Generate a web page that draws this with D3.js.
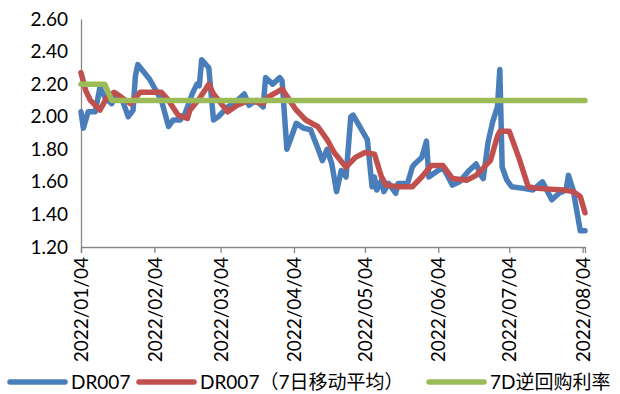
<!DOCTYPE html>
<html>
<head>
<meta charset="utf-8">
<script src="https://cdn.jsdelivr.net/npm/d3@7"></script>
<style>
  html, body { margin: 0; padding: 0; background: #fff; }
  svg text { font-family: Lato, "Noto Sans CJK SC", sans-serif; fill: #000; }
</style>
</head>
<body>
<svg id="chart" width="620" height="394"></svg>
<script>
// DR007 daily fixing (%)
const drDates = ["2022-01-04","2022-01-05","2022-01-07","2022-01-10","2022-01-12","2022-01-14","2022-01-17","2022-01-19","2022-01-21","2022-01-24","2022-01-26","2022-01-27","2022-01-28","2022-02-02","2022-02-07","2022-02-10","2022-02-12","2022-02-15","2022-02-17","2022-02-20","2022-02-22","2022-02-23","2022-02-24","2022-02-27","2022-03-01","2022-03-03","2022-03-07","2022-03-11","2022-03-14","2022-03-16","2022-03-19","2022-03-22","2022-03-23","2022-03-26","2022-03-29","2022-03-30","2022-04-01","2022-04-05","2022-04-08","2022-04-11","2022-04-14","2022-04-16","2022-04-18","2022-04-20","2022-04-22","2022-04-24","2022-04-26","2022-04-28","2022-04-29","2022-05-05","2022-05-07","2022-05-08","2022-05-09","2022-05-11","2022-05-12","2022-05-14","2022-05-17","2022-05-18","2022-05-22","2022-05-24","2022-05-25","2022-05-28","2022-05-30","2022-05-31","2022-06-03","2022-06-06","2022-06-10","2022-06-13","2022-06-17","2022-06-20","2022-06-22","2022-06-23","2022-06-25","2022-06-27","2022-06-29","2022-06-30","2022-07-01","2022-07-03","2022-07-05","2022-07-10","2022-07-14","2022-07-18","2022-07-22","2022-07-25","2022-07-28","2022-07-29","2022-07-31","2022-08-03","2022-08-05"];
const drValues = [2.03,1.93,2.03,2.03,2.18,2.12,2.08,2.14,2.12,2.00,2.04,2.25,2.32,2.23,2.10,1.94,1.98,1.98,2.02,2.14,2.20,2.19,2.35,2.30,1.98,2.00,2.06,2.10,2.14,2.07,2.10,2.06,2.24,2.20,2.24,2.22,1.80,1.96,1.93,1.92,1.81,1.73,1.80,1.71,1.54,1.67,1.63,2.00,2.01,1.86,1.57,1.63,1.55,1.61,1.54,1.59,1.53,1.59,1.59,1.69,1.71,1.75,1.85,1.63,1.66,1.69,1.58,1.60,1.67,1.71,1.64,1.62,1.84,1.97,2.06,2.29,1.69,1.61,1.57,1.56,1.55,1.60,1.49,1.53,1.55,1.64,1.55,1.30,1.30];

// DR007, 7-day moving average (%)
const maDates = ["2022-01-04","2022-01-06","2022-01-08","2022-01-12","2022-01-15","2022-01-18","2022-01-21","2022-01-25","2022-01-29","2022-02-07","2022-02-10","2022-02-14","2022-02-18","2022-02-19","2022-02-23","2022-02-27","2022-03-01","2022-03-07","2022-03-11","2022-03-16","2022-03-22","2022-03-24","2022-03-30","2022-04-05","2022-04-09","2022-04-14","2022-04-18","2022-04-21","2022-04-26","2022-04-30","2022-05-04","2022-05-08","2022-05-11","2022-05-13","2022-05-18","2022-05-24","2022-05-28","2022-06-01","2022-06-06","2022-06-10","2022-06-16","2022-06-20","2022-06-26","2022-06-29","2022-06-30","2022-07-04","2022-07-08","2022-07-12","2022-07-16","2022-07-27","2022-07-31","2022-08-03","2022-08-05"];
const maValues = [2.27,2.16,2.10,2.04,2.12,2.15,2.12,2.08,2.15,2.15,2.10,2.01,1.99,2.04,2.11,2.20,2.14,2.03,2.07,2.10,2.08,2.12,2.17,2.04,1.98,1.94,1.86,1.78,1.69,1.75,1.78,1.77,1.63,1.58,1.57,1.57,1.63,1.70,1.70,1.62,1.61,1.64,1.73,1.88,1.91,1.91,1.75,1.57,1.56,1.55,1.54,1.51,1.41];

// 7-day reverse repo policy rate (%)
const rrDates = ["2022-01-04","2022-01-14","2022-01-17","2022-08-05"];
const rrValues = [2.20,2.20,2.10,2.10];

const yTicks = [1.20,1.40,1.60,1.80,2.00,2.20,2.40,2.60];
const xTickLabels = ["2022/01/04","2022/02/04","2022/03/04","2022/04/04","2022/05/04","2022/06/04","2022/07/04","2022/08/04"];
const seriesNames = ["DR007","DR007（7日移动平均）","7D逆回购利率"];
const seriesColors = ["#4a7ebb","#c0504d","#9bbb59"];

const parse = d3.timeParse("%Y-%m-%d");
const parseTick = d3.timeParse("%Y/%m/%d");
const fmtTick = d3.timeFormat("%Y/%m/%d");

const svg = d3.select("#chart");
const x = d3.scaleTime()
  .domain([parse("2022-01-04"), parse("2022-08-05")])
  .range([81, 585]);
const y = d3.scaleLinear().domain([1.2, 2.6]).range([247, 19]);

// axes
const yAxis = d3.axisLeft(y).tickValues(yTicks).tickFormat(d3.format(".2f")).tickSize(0).tickPadding(13);
const gy = svg.append("g").attr("transform", "translate(81,0)").call(yAxis);
gy.select(".domain").attr("stroke", "#868686").attr("stroke-width", 1.3);
gy.selectAll("text").attr("font-size", 19).style("font-family", "Lato, sans-serif");

const xAxis = d3.axisBottom(x)
  .tickValues(xTickLabels.map(parseTick))
  .tickFormat(fmtTick)
  .tickSizeInner(6).tickSizeOuter(6).tickPadding(8);
const gx = svg.append("g").attr("transform", "translate(0,247)").call(xAxis);
gx.select(".domain").attr("stroke", "#868686").attr("stroke-width", 1.3);
gx.selectAll(".tick line").attr("stroke", "#868686").attr("stroke-width", 1.3);
gx.selectAll("text")
  .attr("font-size", 19)
  .style("font-family", "Lato, sans-serif")
  .attr("text-anchor", "end")
  .attr("dy", "0.35em")
  .attr("y", 0)
  .attr("x", -10)
  .attr("transform", "rotate(-90)");

// lines
const line = d3.line().x(d => x(d[0])).y(d => y(d[1])).curve(d3.curveLinear);
const series = [
  d3.zip(drDates.map(parse), drValues),
  d3.zip(maDates.map(parse), maValues),
  d3.zip(rrDates.map(parse), rrValues)
];
series.forEach((data, i) => {
  svg.append("path")
    .datum(data)
    .attr("d", line)
    .attr("fill", "none")
    .attr("stroke", seriesColors[i])
    .attr("stroke-width", 5.5)
    .attr("stroke-linejoin", "round")
    .attr("stroke-linecap", "round");
});

// legend
const legendX = [8, 137, 427];
const lg = svg.append("g");
seriesNames.forEach((name, i) => {
  lg.append("line")
    .attr("x1", legendX[i] + 2).attr("x2", legendX[i] + 57)
    .attr("y1", 382).attr("y2", 382)
    .attr("stroke", seriesColors[i])
    .attr("stroke-width", 5.5)
    .attr("stroke-linecap", "round");
  lg.append("text")
    .attr("x", legendX[i] + 63)
    .attr("y", 382)
    .attr("dy", "0.36em")
    .attr("font-size", 19)
    .text(name);
});
</script>
</body>
</html>
